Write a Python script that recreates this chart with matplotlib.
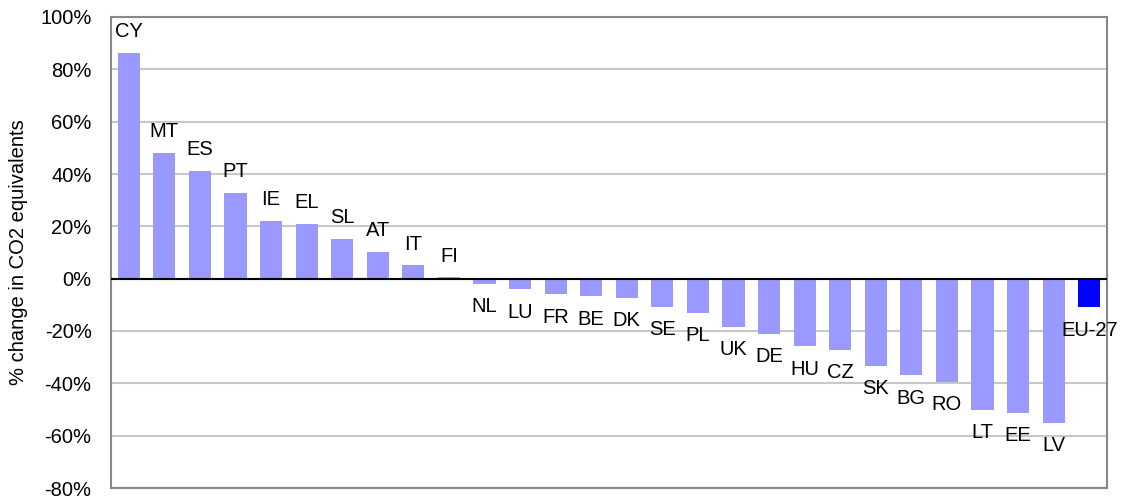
import matplotlib.pyplot as plt
from matplotlib.ticker import FuncFormatter

plt.rcParams['font.family'] = ['Liberation Sans', 'DejaVu Sans']

countries = ["CY", "MT", "ES", "PT", "IE", "EL", "SL", "AT", "IT", "FI",
             "NL", "LU", "FR", "BE", "DK", "SE", "PL", "UK", "DE", "HU",
             "CZ", "SK", "BG", "RO", "LT", "EE", "LV", "EU-27"]
change = [86.3, 48.0, 41.1, 32.7, 22.0, 20.8, 15.1, 10.1, 5.1, 0.5,
          -2.0, -4.1, -6.0, -6.8, -7.2, -10.9, -13.2, -18.3, -21.0, -25.9,
          -27.1, -33.2, -37.0, -39.4, -50.1, -51.2, -55.0, -11.0]

fig = plt.figure(figsize=(11.21, 5.0), dpi=100)
ax = fig.add_axes([0.0990, 0.024, 0.8885, 0.942])

colors = ["#9999ff"] * (len(countries) - 1) + ["#0000ff"]
x = range(len(countries))
ax.bar(x, change, width=0.62, color=colors, zorder=3)

# country codes just past the end of each bar
for i, (c, v) in enumerate(zip(countries, change)):
    if v >= 0:
        ax.annotate(c, (i, v), xytext=(0, 8.5), textcoords="offset points",
                    ha="center", va="bottom", fontsize=14.5)
    else:
        ax.annotate(c, (i, v), xytext=(0, -9.5), textcoords="offset points",
                    ha="center", va="top", fontsize=14.5)

ax.axhline(0, color="black", lw=1.5, zorder=4)
ax.set_xlim(-0.5, len(countries) - 0.5)
ax.set_ylim(-80, 100)
ax.set_yticks(range(-80, 101, 20))
ax.yaxis.set_major_formatter(FuncFormatter(lambda v, p: f"{v:.0f}%"))
ax.set_xticks([])
ax.tick_params(axis="y", length=0, labelsize=14.5, pad=14)
ax.yaxis.grid(True, color="#c8c8c8", lw=1.5, zorder=0)
for s in ax.spines.values():
    s.set_color("#888888")
    s.set_linewidth(1.5)

ax.set_ylabel("% change in CO2 equivalents", fontsize=14.5, labelpad=9)

fig.savefig("out.png", dpi=100)
